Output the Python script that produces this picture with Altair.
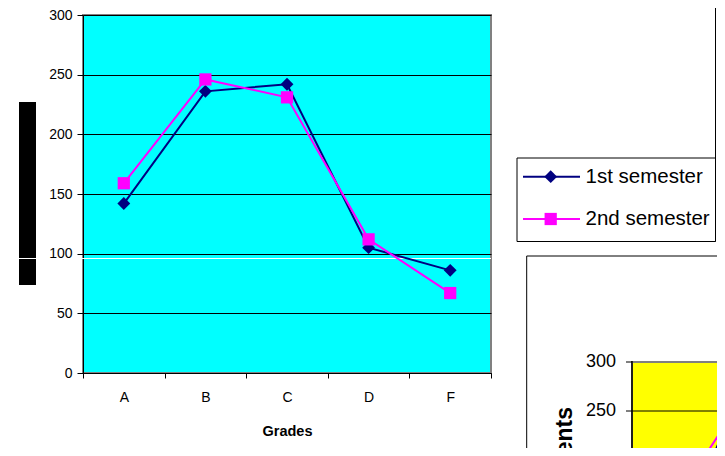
import altair as alt
import pandas as pd

# ---------------- data (main chart) ----------------
grades = ["A", "B", "C", "D", "F"]
sem1 = [142, 236, 242, 105, 86]
sem2 = [159, 246, 231, 112, 67]
series_names = ["1st semester", "2nd semester"]
series_colors = ["#000080", "#FF00FF"]
series_shapes = ["diamond", "square"]
y_ticks = [0, 50, 100, 150, 200, 250, 300]
x_title = "Grades"

# ---------------- data (partially visible second chart) ----------------
grades2 = ["A", "B"]
sem1_b = [124, 293]
sem2_b = [165, 275]
y_ticks2 = [300, 250]
y_title2 = "Number of Students"

FONT = "Liberation Sans"
W, H = 408, 358

series_values = [sem1, sem2]
one = pd.DataFrame({"k": [0]})

# ---------------- main chart ----------------
x_scale = alt.Scale(type="band", domain=grades, paddingInner=0, paddingOuter=0)
y_scale = alt.Scale(domain=[0, 300], nice=False, zero=True)

x_axis = alt.Axis(title=x_title, labelAngle=0, tickBand="extent", grid=False,
                  domainColor="black", tickColor="black", tickSize=5,
                  labelFont=FONT, labelFontSize=14, labelColor="black", labelPadding=12,
                  titleFont=FONT, titleFontSize=14.5, titleFontWeight="bold",
                  titleColor="black", titlePadding=20)
y_axis = alt.Axis(title=None, values=y_ticks, grid=True, gridColor="black", gridWidth=1,
                  gridOpacity=1, domainColor="black", tickColor="black", tickSize=6,
                  labelFont=FONT, labelFontSize=14, labelColor="black", labelPadding=5)

layers = []
# redaction block on the left
layers.append(alt.Chart(one).mark_rect(color="black").encode(
    x=alt.value(-64), x2=alt.value(-47), y=alt.value(87), y2=alt.value(270)))
# thin white scan line artifact
layers.append(alt.Chart(one).mark_rule(color="white", strokeWidth=1).encode(
    x=alt.value(-64), x2=alt.value(W), y=alt.value(243.5)))

for name, vals, col, shp in zip(series_names, series_values, series_colors, series_shapes):
    d = pd.DataFrame({"grade": grades, "count": vals, "series": name})
    base = alt.Chart(d).encode(
        x=alt.X("grade:N", sort=grades, scale=x_scale, axis=x_axis, bandPosition=0.5),
        y=alt.Y("count:Q", scale=y_scale, axis=y_axis),
    )
    layers.append(base.mark_line(color=col, strokeWidth=2))
    layers.append(base.mark_point(filled=True, shape=shp, size=165 if shp == "diamond" else 150,
                                  color=col, opacity=1))

# legend box (right border pulled in so it stays inside the page)
layers.append(alt.Chart(one).mark_rect(fill="white", stroke="black", strokeWidth=1).encode(
    x=alt.value(434), x2=alt.value(632.5), y=alt.value(143), y2=alt.value(226.5)))
legend_y = [161.7, 204]
for name, col, shp, ly in zip(series_names, series_colors, series_shapes, legend_y):
    ld = pd.DataFrame({"name": [name]})
    layers.append(alt.Chart(ld).mark_rule(color=col, strokeWidth=2).encode(
        x=alt.value(440), x2=alt.value(497), y=alt.value(ly)))
    layers.append(alt.Chart(ld).mark_point(filled=True, shape=shp, size=165 if shp == "diamond" else 150,
                                           color=col, opacity=1).encode(
        x=alt.value(467.7), y=alt.value(ly)))
    layers.append(alt.Chart(ld).mark_text(align="left", baseline="middle", font=FONT,
                                          fontSize=20.5, color="black").encode(
        text="name:N", x=alt.value(502.5), y=alt.value(ly)))
# right border of outer chart area
layers.append(alt.Chart(one).mark_rule(color="black", strokeWidth=1).encode(
    x=alt.value(632.5), y=alt.value(-7), y2=alt.value(226.5)))

main = alt.layer(*layers)

# ---------------- second chart (only its corner is visible) ----------------
y2_scale = alt.Scale(domain=[0, 300], range=[641, 347], nice=False, zero=False)
x2_scale = alt.Scale(type="point", domain=grades2, range=[597, 667], padding=0)

sl = []
sl.append(alt.Chart(one).mark_rect(fill="white", stroke="black", strokeWidth=1).encode(
    x=alt.value(443.7), x2=alt.value(900), y=alt.value(241), y2=alt.value(700)))
sl.append(alt.Chart(one).mark_rect(fill="#FFFF00", stroke="#808080", strokeWidth=2).encode(
    x=alt.value(549), x2=alt.value(900), y=alt.value(347), y2=alt.value(700)))
td = pd.DataFrame({"t": y_ticks2})
sl.append(alt.Chart(td).transform_filter("datum.t < 300").mark_rule(color="black", strokeWidth=1).encode(
    y=alt.Y("t:Q", scale=y2_scale, axis=None), x=alt.value(549), x2=alt.value(900)))
sl.append(alt.Chart(td).mark_rule(color="black", strokeWidth=1).encode(
    y=alt.Y("t:Q", scale=y2_scale, axis=None), x=alt.value(543), x2=alt.value(549)))
sl.append(alt.Chart(td).mark_text(align="right", baseline="middle", font=FONT, fontSize=18,
                                  color="black").encode(
    y=alt.Y("t:Q", scale=y2_scale, axis=None), x=alt.value(533), text="t:Q"))
sl.append(alt.Chart(one).mark_rule(color="black", strokeWidth=1.5).encode(
    x=alt.value(549), y=alt.value(346), y2=alt.value(700)))
for vals, col in zip([sem1_b, sem2_b], series_colors):
    d2 = pd.DataFrame({"g": grades2, "v": vals})
    sl.append(alt.Chart(d2).mark_line(color=col, strokeWidth=2).encode(
        x=alt.X("g:N", sort=grades2, scale=x2_scale, axis=None),
        y=alt.Y("v:Q", scale=y2_scale, axis=None)))
sl.append(alt.Chart(pd.DataFrame({"t": [y_title2]})).mark_text(
    angle=270, align="right", baseline="middle", font=FONT, fontSize=23,
    fontWeight="bold", color="black").encode(
    text="t:N", x=alt.value(482), y=alt.value(392)))

second = alt.layer(*sl)

chart = alt.layer(main, second).resolve_scale(x="independent", y="independent").properties(
    width=W, height=H,
    autosize=alt.AutoSizeParams(type="none"),
    padding={"left": 75, "top": 7, "right": 226, "bottom": 75},
    background="white",
).configure_view(fill="#00FFFF", stroke="#808080", strokeWidth=2)

chart.save("out.html", embed_options={"renderer": "svg", "actions": False})
